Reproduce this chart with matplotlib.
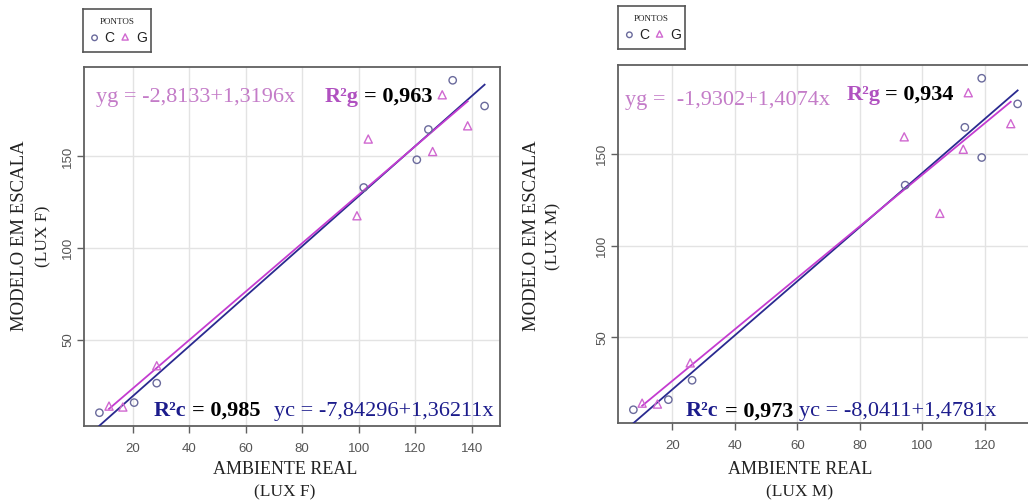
import matplotlib
matplotlib.use("Agg")
import matplotlib.pyplot as plt
import numpy as np

# --- data -------------------------------------------------------------
# illuminance in the scale model (same for both panels)
modelo_c = [10.4, 15.9, 26.5, 133.1, 148.2, 164.7, 191.5, 177.5]
modelo_g = [14.0, 13.5, 36.0, 117.7, 159.5, 152.7, 183.6, 166.7]

# illuminance in the real room, left panel (LUX F)
real_f_c = [8.2, 20.5, 28.5, 101.8, 120.6, 124.7, 133.3, 144.6]
real_f_g = [11.6, 16.5, 28.5, 99.4, 103.4, 126.2, 129.6, 138.6]

# illuminance in the real room, right panel (LUX M)
real_m_c = [7.5, 18.7, 26.3, 94.5, 119.0, 113.6, 119.0, 130.5]
real_m_g = [10.3, 15.2, 25.7, 105.6, 94.2, 113.1, 114.7, 128.3]

# fitted lines: (intercept, slope) and R²
fit_f_c = (-7.84296, 1.36211)
fit_f_g = (-2.8133, 1.3196)
fit_m_c = (-8.0411, 1.4781)
fit_m_g = (-1.9302, 1.4074)
r2_f = ("0,985", "0,963")
r2_m = ("0,973", "0,934")
eq_f = ("yc = -7,84296+1,36211x", "yg = -2,8133+1,3196x")
eq_m = ("yc = -8,0411+1,4781x", "yg =  -1,9302+1,4074x")
unit_f = "(LUX F)"
unit_m = "(LUX M)"

xticks = [20, 40, 60, 80, 100, 120, 140]
yticks = [50, 100, 150]

# --- style ------------------------------------------------------------
W, H = 1028, 504
SERIF = ["Liberation Serif", "DejaVu Serif"]
NARROW = ["Liberation Sans Narrow", "Liberation Sans", "DejaVu Sans"]
SANS = ["Liberation Sans", "DejaVu Sans"]

COL_C_PT = "#6a6a9c"
COL_G_PT = "#d068d0"
COL_C_LN = "#2a2a90"
COL_G_LN = "#c43cd0"
COL_G_TX = "#c47cc8"
COL_G_BD = "#b050c0"
COL_C_TX = "#1c1c8c"

fig = plt.figure(figsize=(W / 100, H / 100), dpi=100)
fig.patch.set_facecolor("white")


def fx(px):
    return px / W


def fy(py):
    return 1 - py / H


def axes_rect(x0, y0, x1, y1):
    return [fx(x0), fy(y1), fx(x1) - fx(x0), fy(y0) - fy(y1)]


def padded(values, frac=0.04):
    lo, hi = min(values), max(values)
    d = (hi - lo) * frac
    return lo - d, hi + d


def panel(rect, xc, xg, fit_c, fit_g, r2, eq, layout):
    ax = fig.add_axes(rect)
    xlim = padded(xc + xg)
    ylim = padded(modelo_c + modelo_g)
    ax.set_xticks([t for t in xticks if xlim[0] <= t <= xlim[1]])
    ax.set_yticks([t for t in yticks if ylim[0] <= t <= ylim[1]])
    ax.set_xlim(*xlim)
    ax.set_ylim(*ylim)
    ax.grid(True, color="#e3e3e3", lw=1.0)
    ax.set_axisbelow(True)
    for s in ax.spines.values():
        s.set_color("#606060")
        s.set_linewidth(1.3)
    ax.tick_params(axis="both", length=5, width=1.0, color="#606060",
                   labelcolor="#555555", labelsize=9.5)
    ax.tick_params(axis="x", pad=7)
    ax.tick_params(axis="y", pad=2)
    for lab in ax.get_xticklabels() + ax.get_yticklabels():
        lab.set_family(NARROW)
    for lab in ax.get_yticklabels():
        lab.set_rotation(90)
        lab.set_va("center")

    # regression lines across each group's range
    for xs, (a, b), col in ((xc, fit_c, COL_C_LN), (xg, fit_g, COL_G_LN)):
        xx = np.array([min(xs), max(xs)])
        ax.plot(xx, a + b * xx, color=col, lw=1.3, zorder=3)

    ax.scatter(xc, modelo_c, s=28, marker="o", facecolors="none",
               edgecolors=COL_C_PT, linewidths=1.0, zorder=4)
    ax.scatter(xg, modelo_g, s=34, marker="^", facecolors="none",
               edgecolors=COL_G_PT, linewidths=1.0, zorder=4)

    tr = ax.transAxes
    fs = 16
    (gx, gy, rgx, eqgx, rgy), (cx, cy, eqcx, ycx) = layout
    ax.text(gx, gy, eq[1], transform=tr, color=COL_G_TX, fontsize=fs,
            family=SERIF, va="baseline", ha="left")
    ax.text(rgx, rgy, "R²g", transform=tr, color=COL_G_BD, fontsize=fs,
            family=SERIF, weight="bold", va="baseline", ha="left")
    ax.text(eqgx, rgy, "= " + r2[1], transform=tr, color="black", fontsize=fs,
            family=SERIF, weight="bold", va="baseline", ha="left")
    ax.text(cx, cy, "R²c", transform=tr, color=COL_C_TX, fontsize=fs,
            family=SERIF, weight="bold", va="baseline", ha="left")
    ax.text(eqcx, cy, "= " + r2[0], transform=tr, color="black", fontsize=fs,
            family=SERIF, weight="bold", va="baseline", ha="left")
    ax.text(ycx, cy, eq[0], transform=tr, color=COL_C_TX, fontsize=fs,
            family=SERIF, va="baseline", ha="left")
    return ax


def legend_box(x0, y0, x1, y1):
    lg = fig.add_axes(axes_rect(x0, y0, x1, y1))
    lg.set_xlim(0, 1)
    lg.set_ylim(0, 1)
    lg.set_xticks([])
    lg.set_yticks([])
    for s in lg.spines.values():
        s.set_color("#555555")
        s.set_linewidth(1.2)
    lg.text(0.5, 0.70, "PONTOS", ha="center", va="center", fontsize=6.5,
            family=SERIF, color="#222222")
    lg.scatter([0.17], [0.33], s=16, marker="o", facecolors="none",
               edgecolors=COL_C_PT, linewidths=1.0)
    lg.text(0.39, 0.33, "C", ha="center", va="center", fontsize=10,
            family=SANS, color="#222222")
    lg.scatter([0.62], [0.35], s=20, marker="^", facecolors="none",
               edgecolors=COL_G_PT, linewidths=1.0)
    lg.text(0.86, 0.33, "G", ha="center", va="center", fontsize=10,
            family=SANS, color="#222222")


def axis_titles(xcen, ylab_x, unit_x, ycen, unit):
    fig.text(fx(xcen), fy(469), "AMBIENTE REAL", ha="center", va="center",
             fontsize=13, family=SERIF, color="#222222")
    fig.text(fx(xcen), fy(492), unit, ha="center", va="center",
             fontsize=12.5, family=SERIF, color="#222222")
    fig.text(fx(ylab_x), fy(ycen), "MODELO EM ESCALA", ha="center",
             va="center", rotation=90, fontsize=13.5, family=SERIF,
             color="#222222")
    fig.text(fx(unit_x), fy(ycen), unit, ha="center", va="center",
             rotation=90, fontsize=12.5, family=SERIF, color="#222222")


# left panel (LUX F)
panel(axes_rect(84, 67, 500, 426), real_f_c, real_f_g, fit_f_c, fit_f_g,
      r2_f, eq_f,
      ((0.029, 0.903, 0.578, 0.672, 0.903), (0.168, 0.028, 0.259, 0.457)))
legend_box(83, 9, 151, 52)
axis_titles(285, 20, 43, 236, unit_f)

# right panel (LUX M), its right edge runs off the figure
panel(axes_rect(618, 65, 1033, 423), real_m_c, real_m_g, fit_m_c, fit_m_g,
      r2_m, eq_m,
      ((0.018, 0.888, 0.551, 0.643, 0.902), (0.163, 0.019, 0.257, 0.436)))
legend_box(618, 6, 685, 49)
axis_titles(800, 531, 553, 236, unit_m)

fig.savefig("out.png", dpi=100, facecolor="white")
